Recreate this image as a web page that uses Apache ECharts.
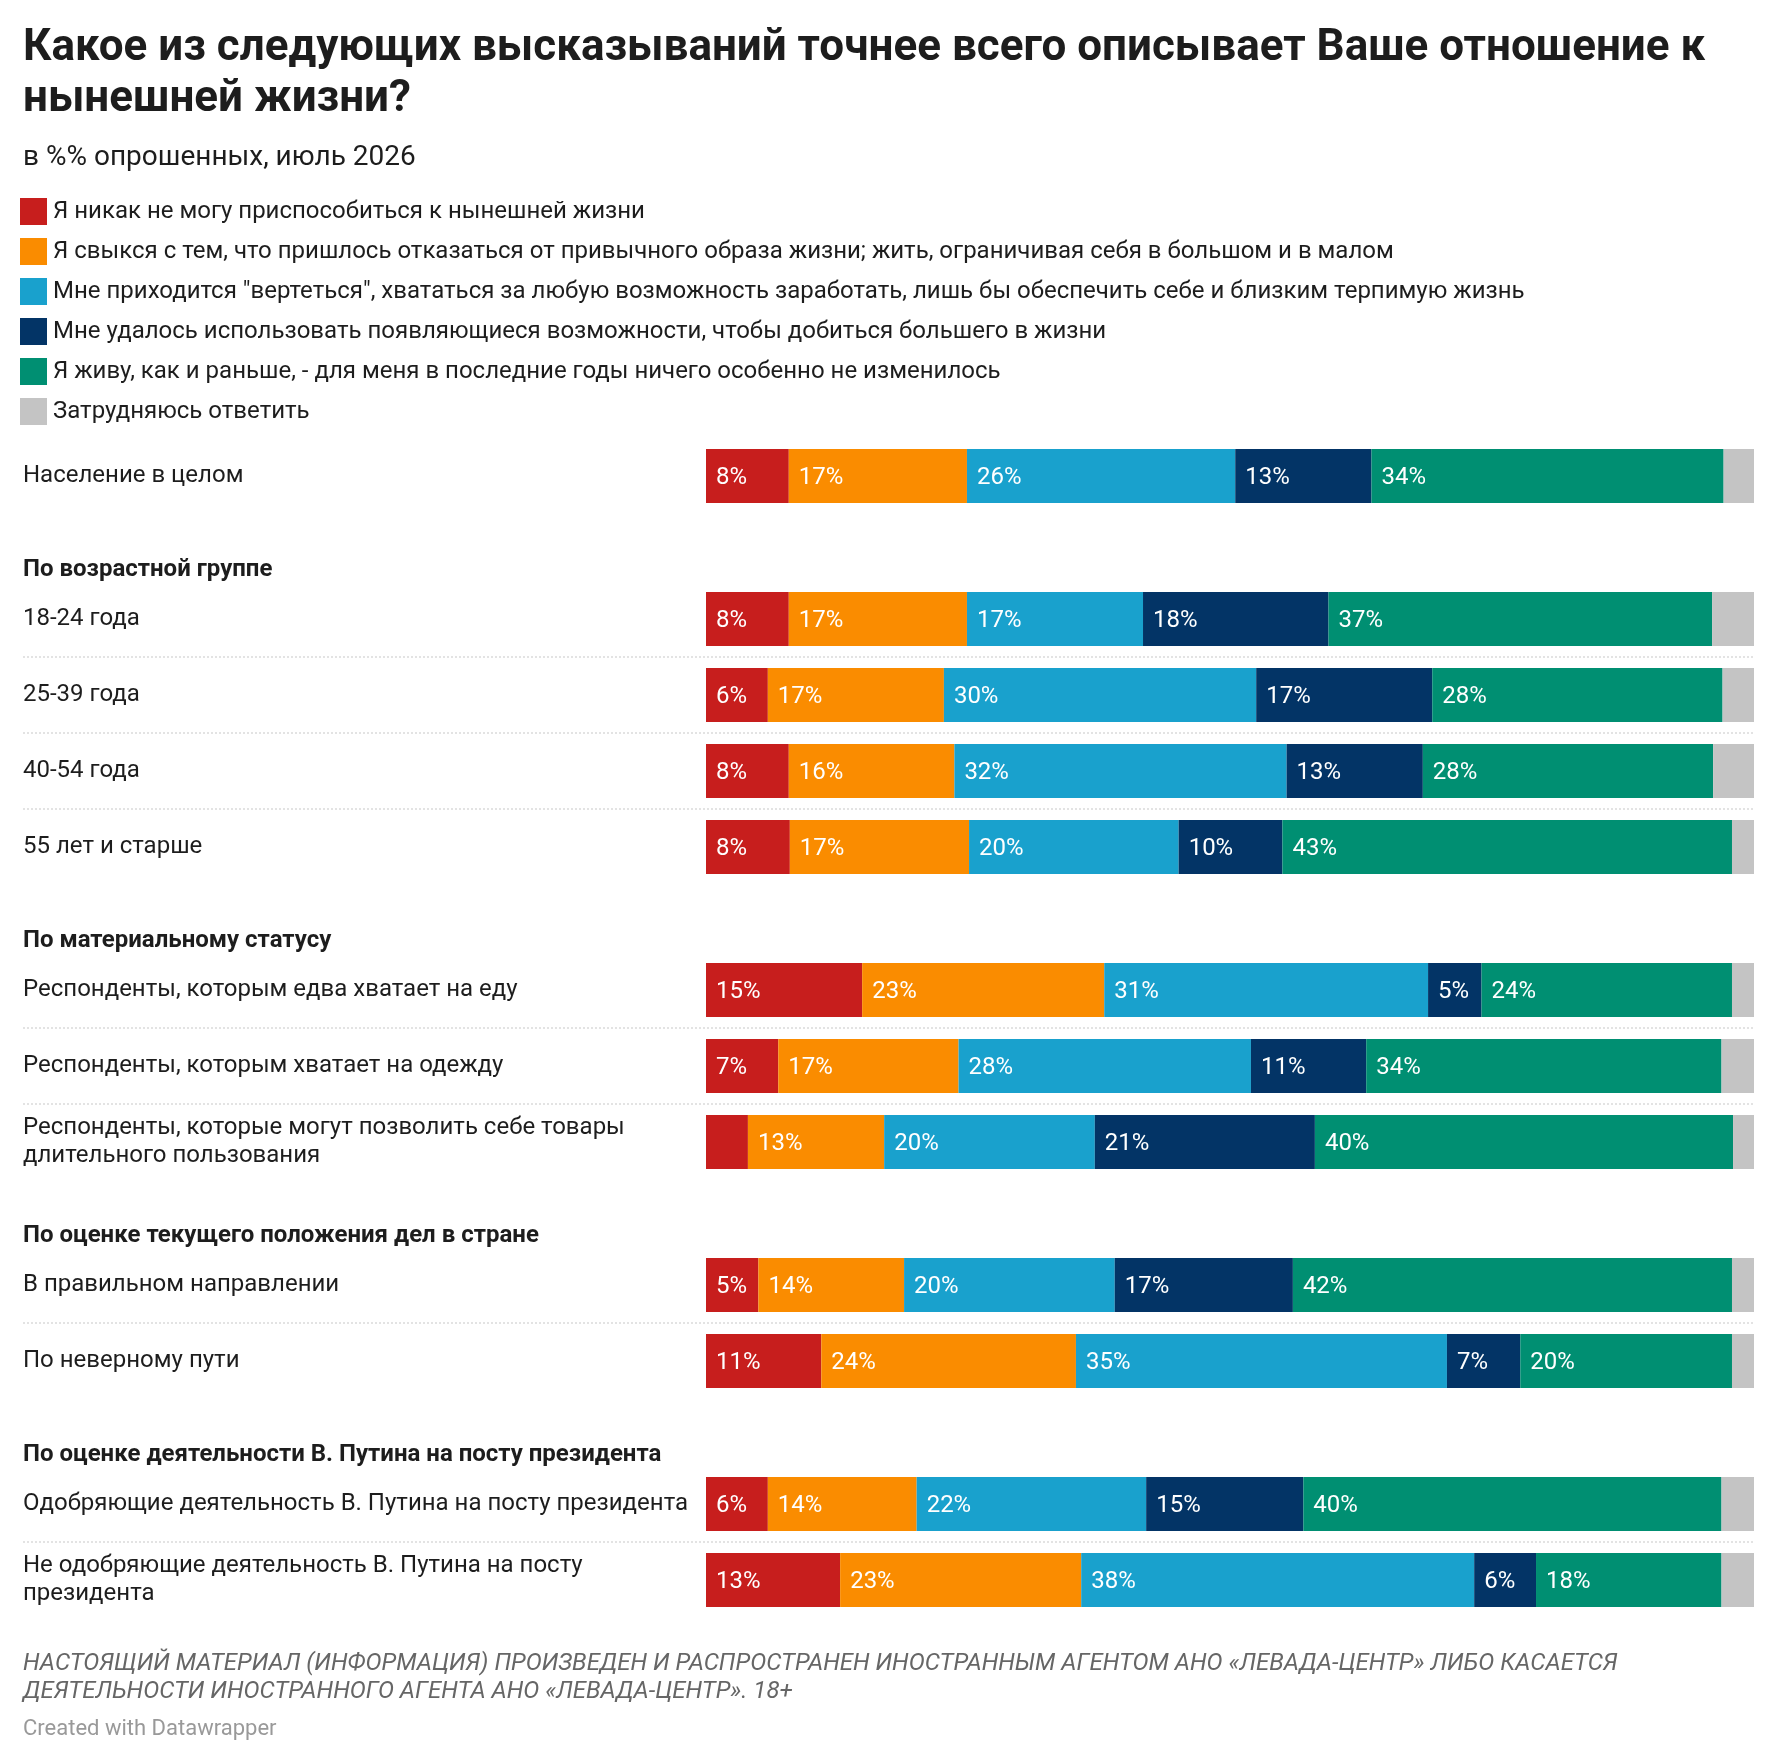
<!DOCTYPE html>
<html>
<head>
<meta charset="utf-8">
<title>Отношение к нынешней жизни</title>
<script src="https://cdn.jsdelivr.net/npm/echarts@6/dist/echarts.min.js"></script>
<style>
    html, body { margin: 0; padding: 0; background: #fff; }
    #chart { width: 1776px; height: 1764px; }
</style>
</head>
<body>
<div id="chart"></div>
<script>
// строки графика
let categories = [
    'Население в целом',
    '18-24 года',
    '25-39 года',
    '40-54 года',
    '55 лет и старше',
    'Респонденты, которым едва хватает на еду',
    'Респонденты, которым хватает на одежду',
    'Респонденты, которые могут позволить себе товары\nдлительного пользования',
    'В правильном направлении',
    'По неверному пути',
    'Одобряющие деятельность В. Путина на посту президента',
    'Не одобряющие деятельность В. Путина на посту\nпрезидента'
];
let groupTitles = [
    '',
    'По возрастной группе',
    'По материальному статусу',
    'По оценке текущего положения дел в стране',
    'По оценке деятельности В. Путина на посту президента'
];
let groupSizes = [1, 4, 3, 2, 2];

let seriesNames = [
    'Я никак не могу приспособиться к нынешней жизни',
    'Я свыкся с тем, что пришлось отказаться от привычного образа жизни; жить, ограничивая себя в большом и в малом',
    'Мне приходится "вертеться", хвататься за любую возможность заработать, лишь бы обеспечить себе и близким терпимую жизнь',
    'Мне удалось использовать появляющиеся возможности, чтобы добиться большего в жизни',
    'Я живу, как и раньше, - для меня в последние годы ничего особенно не изменилось',
    'Затрудняюсь ответить'
];
let seriesColors = ['#c71e1d', '#fa8c00', '#19a1cd', '#033466', '#008f72', '#c4c4c4'];

// значения, %
let red    = [7.9, 7.9, 5.9, 7.9, 8.0, 14.9, 6.9, 4.0, 5.0, 11.0, 5.9, 12.8];
let orange = [17.0, 17.0, 16.8, 15.8, 17.1, 23.1, 17.2, 13.0, 13.9, 24.3, 14.2, 23.0];
let blue   = [25.6, 16.8, 29.8, 31.7, 20.0, 30.9, 27.9, 20.1, 20.1, 35.4, 21.9, 37.5];
let navy   = [13.0, 17.7, 16.8, 13.0, 9.9, 5.1, 11.0, 21.0, 17.0, 7.0, 15.0, 5.9];
let green  = [33.6, 36.6, 27.7, 27.7, 42.9, 23.9, 33.9, 39.9, 41.9, 20.2, 39.9, 17.7];
let gray   = [2.9, 4.0, 3.0, 3.9, 2.1, 2.1, 3.1, 2.0, 2.1, 2.1, 3.1, 3.1];

let seriesData = [red, orange, blue, navy, green, gray];

let fontName = 'Roboto, "Noto Sans", sans-serif';

// разметка
let barLeft = 706,
    barW = 1048,
    barH = 54,
    rowStep = 76,
    groupStep = 143,
    firstCenter = 476,
    headerOffset = 47;

let grids = [], xAxes = [], yAxes = [], series = [], graphics = [];

let row = 0, c = firstCenter;
groupSizes.forEach(function (size, g) {
    for (let k = 0; k < size; k++) {
        if (row > 0) {
            c += (k === 0 ? groupStep : rowStep);
        }
        if (k === 0 && groupTitles[g] !== '') {
            graphics.push({
                type: 'text',
                left: 23,
                top: c - headerOffset - 14,
                style: {
                    text: groupTitles[g],
                    font: 'bold 24px ' + fontName,
                    fill: '#1d1d1d'
                }
            });
        }
        if (k > 0) {
            let ySep = c - rowStep / 2;
            graphics.push({
                type: 'line',
                shape: { x1: 23, y1: ySep, x2: barLeft + barW, y2: ySep },
                style: { stroke: '#c8c8c8', lineWidth: 1, lineDash: [2, 2] }
            });
        }

        let total = 0;
        seriesData.forEach(function (arr) { total += arr[row]; });

        grids.push({ left: barLeft, width: barW, top: c - barH / 2, height: barH });
        xAxes.push({ type: 'value', gridIndex: row, min: 0, max: total, show: false });
        yAxes.push({
            type: 'category',
            gridIndex: row,
            data: [categories[row]],
            axisLine: { show: false },
            axisTick: { show: false },
            axisLabel: {
                align: 'left',
                margin: barLeft - 23,
                fontSize: 24,
                lineHeight: 28,
                padding: [6, 0, 0, 0],
                color: '#1d1d1d',
                fontFamily: fontName
            }
        });

        seriesData.forEach(function (arr, s) {
            let v = arr[row];
            series.push({
                name: seriesNames[s],
                type: 'bar',
                xAxisIndex: row,
                yAxisIndex: row,
                stack: 'row' + row,
                barWidth: '100%',
                data: [v],
                itemStyle: { color: seriesColors[s] },
                label: {
                    show: s < 5 && v >= 4.5,
                    position: 'insideLeft',
                    distance: 10,
                    offset: [0, 2],
                    color: '#fff',
                    fontSize: 24,
                    fontFamily: fontName,
                    formatter: function (p) { return Math.round(p.value) + '%'; }
                },
                emphasis: { disabled: true }
            });
        });
        row++;
    }
});

// подвал
graphics.push({
    type: 'text',
    left: 23,
    top: 1650,
    style: {
        text: 'НАСТОЯЩИЙ МАТЕРИАЛ (ИНФОРМАЦИЯ) ПРОИЗВЕДЕН И РАСПРОСТРАНЕН ИНОСТРАННЫМ АГЕНТОМ АНО «ЛЕВАДА-ЦЕНТР» ЛИБО КАСАЕТСЯ\nДЕЯТЕЛЬНОСТИ ИНОСТРАННОГО АГЕНТА АНО «ЛЕВАДА-ЦЕНТР». 18+',
        font: 'italic 24px ' + fontName,
        lineHeight: 28,
        fill: '#666'
    }
});
graphics.push({
    type: 'text',
    left: 23,
    top: 1718,
    style: {
        text: 'Created with Datawrapper',
        font: '22px ' + fontName,
        fill: '#999'
    }
});

let myChart = echarts.init(document.getElementById('chart'));

let option = {
    backgroundColor: '#fff',
    animation: false,
    textStyle: { fontFamily: fontName },
    title: [{
        text: 'Какое из следующих высказываний точнее всего описывает Ваше отношение к\nнынешней жизни?',
        left: 18,
        top: 18,
        textStyle: { fontSize: 44, fontWeight: 'bold', lineHeight: 51, color: '#1d1d1d', fontFamily: fontName }
    }, {
        text: 'в %% опрошенных, июль 2026',
        left: 18,
        top: 139,
        textStyle: { fontSize: 28, fontWeight: 'normal', color: '#1d1d1d', fontFamily: fontName }
    }],
    legend: {
        orient: 'vertical',
        left: 20,
        top: 198,
        padding: 0,
        itemWidth: 27,
        itemHeight: 27,
        itemGap: 13,
        icon: 'rect',
        selectedMode: false,
        data: seriesNames.map(function (n, i) {
            return { name: n, itemStyle: { color: seriesColors[i] } };
        }),
        textStyle: { fontSize: 24, color: '#1d1d1d', fontFamily: fontName, padding: [0, 0, 0, 1] }
    },
    grid: grids,
    xAxis: xAxes,
    yAxis: yAxes,
    series: series,
    graphic: graphics
};
myChart.setOption(option);
</script>
</body>
</html>
